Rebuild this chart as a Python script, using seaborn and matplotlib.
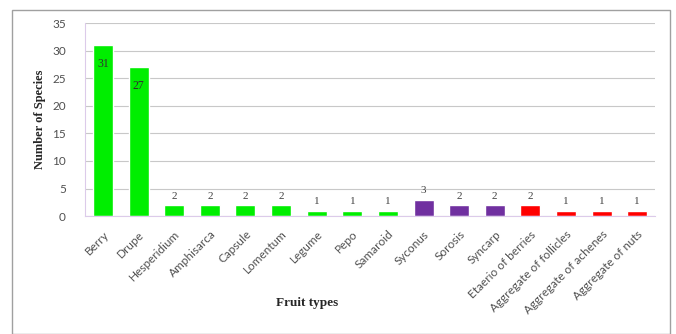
import matplotlib
matplotlib.use("Agg")
import matplotlib.pyplot as plt
import matplotlib.patches as mpatches
import seaborn as sns
import pandas as pd

categories = ["Berry", "Drupe", "Hesperidium", "Amphisarca", "Capsule", "Lomentum",
              "Legume", "Pepo", "Samaroid", "Syconus", "Sorosis", "Syncarp",
              "Etaerio of berries", "Aggregate of follicles", "Aggregate of achenes",
              "Aggregate of nuts"]
counts = [31, 27, 2, 2, 2, 2, 1, 1, 1, 3, 2, 2, 2, 1, 1, 1]
groups = ["Simple"] * 9 + ["Multiple"] * 3 + ["Aggregate"] * 4
group_colors = {"Simple": "#00EE00", "Multiple": "#7030A0", "Aggregate": "#FF0000"}

df = pd.DataFrame({"Fruit": categories, "Count": counts, "Group": groups})

sns.set_style("white")
plt.rcParams["font.family"] = ["Liberation Serif", "DejaVu Serif"]
tick_font = ["Lato", "DejaVu Sans"]

fig = plt.figure(figsize=(6.76, 3.34), dpi=100)
ax = fig.add_axes([0.126, 0.353, 0.843, 0.578])

sns.barplot(data=df, x="Fruit", y="Count", hue="Group", palette=group_colors,
            dodge=False, legend=False, width=0.56, ax=ax, saturation=1)

ax.set_ylim(0, 35)
ax.set_yticks(range(0, 36, 5))
ax.yaxis.grid(True, color="#C8C8C8", linewidth=0.8)
ax.set_axisbelow(True)
for s in ["top", "right"]:
    ax.spines[s].set_visible(False)
ax.spines["left"].set_color("#DCCBEA")
ax.spines["bottom"].set_color("#DCCBEA")
ax.tick_params(axis="both", length=0, colors="#505050", labelsize=8.5)
ax.tick_params(axis="y", pad=14)
ax.tick_params(axis="x", pad=9)
ax.set_xticks(range(len(categories)))
ax.set_xticklabels(categories, rotation=45, ha="right", rotation_mode="anchor")
for lbl in ax.get_xticklabels() + ax.get_yticklabels():
    lbl.set_fontfamily(tick_font)

for cont in ax.containers:
    for bar in cont:
        h = bar.get_height()
        if h != h or h == 0:
            continue
        x = bar.get_x() + bar.get_width() / 2
        if h > 10:
            ax.annotate(f"{int(h)}", (x, h), xytext=(0, -9), textcoords="offset points",
                        ha="center", va="top", fontsize=8.5, color="#303030")
        else:
            ax.annotate(f"{int(h)}", (x, h), xytext=(0, 3), textcoords="offset points",
                        ha="center", va="bottom", fontsize=8, color="#404040")

ax.set_xlabel("Fruit types", fontsize=9.5, fontweight="bold")
ax.set_ylabel("Number of Species", fontsize=9, fontweight="bold")
ax.xaxis.set_label_coords(0.39, -0.42)
ax.yaxis.set_label_coords(-0.068, 0.5)

border = mpatches.Rectangle((12 / 676, 0.0), 658 / 676, 1 - 10 / 334,
                            transform=fig.transFigure, fill=False,
                            edgecolor="#A0A0A0", linewidth=1.0)
fig.patches.append(border)

fig.savefig("out.png", dpi=100)
